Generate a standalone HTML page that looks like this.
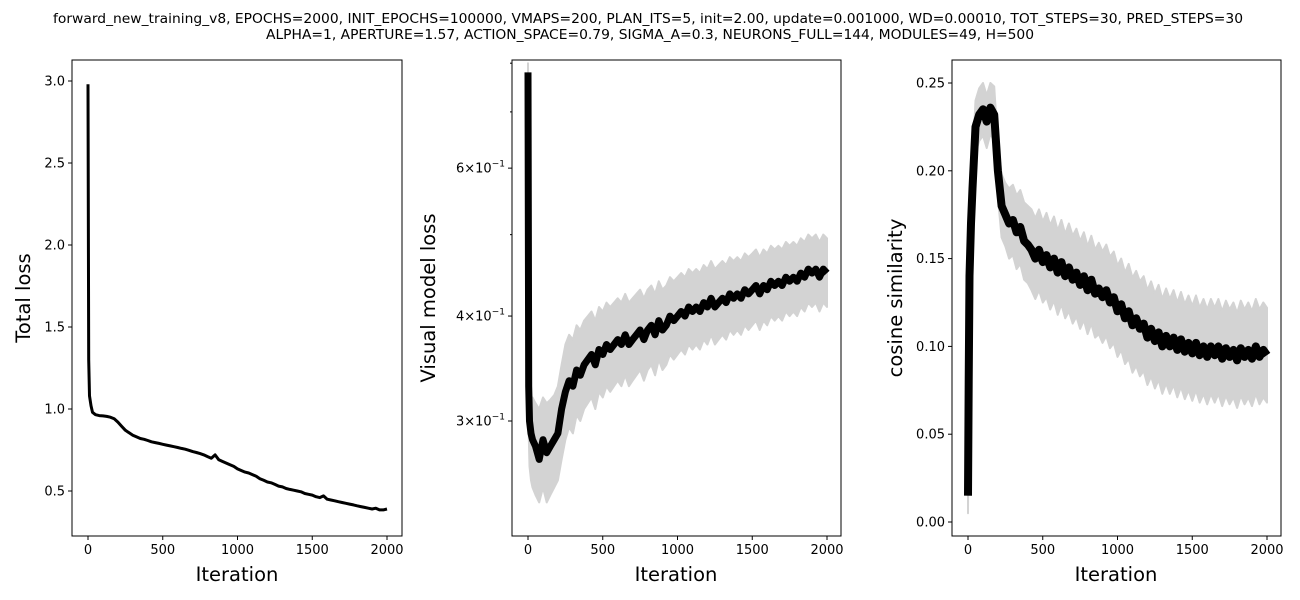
<!DOCTYPE html>
<html><head><meta charset="utf-8"><style>
body{margin:0;background:#fff;}
svg{display:block;font-family:"DejaVu Sans","Liberation Sans",sans-serif;}
</style></head><body>
<svg id="fig" width="1300" height="600" viewBox="0 0 1300 600" xmlns="http://www.w3.org/2000/svg">
<rect width="1300" height="600" fill="#fff"/>
<text x="648" y="23" font-size="13" text-anchor="middle" textLength="1190" lengthAdjust="spacingAndGlyphs">forward_new_training_v8, EPOCHS=2000, INIT_EPOCHS=100000, VMAPS=200, PLAN_ITS=5, init=2.00, update=0.001000, WD=0.00010, TOT_STEPS=30, PRED_STEPS=30</text>
<text x="650" y="39" font-size="13" text-anchor="middle" textLength="768" lengthAdjust="spacingAndGlyphs">ALPHA=1, APERTURE=1.57, ACTION_SPACE=0.79, SIGMA_A=0.3, NEURONS_FULL=144, MODULES=49, H=500</text>
<g id="g1"></g>
<g id="g2"></g>
<g id="g3"></g>
</svg>
<script>
const iters=[0,5,10,20,30,50,75,100,125,150,175,200,225,250,275,300,325,350,375,400,425,450,475,500,525,550,575,600,625,650,675,700,725,750,775,800,825,850,875,900,925,950,975,1000,1025,1050,1075,1100,1125,1150,1175,1200,1225,1250,1275,1300,1325,1350,1375,1400,1425,1450,1475,1500,1525,1550,1575,1600,1625,1650,1675,1700,1725,1750,1775,1800,1825,1850,1875,1900,1925,1950,1975,2000];
const totalLoss=[2.98,1.3,1.08,1.02,0.98,0.965,0.96,0.958,0.955,0.95,0.94,0.92,0.895,0.87,0.855,0.84,0.83,0.82,0.815,0.808,0.8,0.795,0.79,0.785,0.78,0.775,0.77,0.765,0.76,0.755,0.748,0.74,0.735,0.728,0.72,0.71,0.7,0.72,0.69,0.68,0.67,0.66,0.65,0.635,0.625,0.615,0.61,0.6,0.59,0.575,0.565,0.555,0.55,0.54,0.53,0.525,0.515,0.51,0.505,0.5,0.495,0.485,0.48,0.475,0.465,0.46,0.47,0.45,0.445,0.44,0.435,0.43,0.425,0.42,0.415,0.41,0.405,0.4,0.395,0.39,0.395,0.385,0.385,0.39];
const visMean=[0.78,0.33,0.3,0.29,0.285,0.28,0.27,0.285,0.275,0.28,0.285,0.29,0.31,0.325,0.335,0.33,0.345,0.34,0.35,0.355,0.36,0.35,0.365,0.36,0.37,0.365,0.37,0.375,0.37,0.38,0.37,0.375,0.38,0.385,0.375,0.385,0.39,0.38,0.395,0.385,0.39,0.4,0.395,0.4,0.405,0.4,0.41,0.405,0.41,0.405,0.415,0.41,0.42,0.41,0.415,0.42,0.415,0.425,0.42,0.425,0.42,0.43,0.425,0.43,0.435,0.425,0.435,0.43,0.44,0.435,0.44,0.435,0.445,0.44,0.445,0.44,0.45,0.445,0.455,0.45,0.455,0.445,0.455,0.45];
const visUpper=[0.8,0.36,0.33,0.32,0.32,0.315,0.31,0.32,0.315,0.318,0.322,0.33,0.35,0.37,0.38,0.375,0.39,0.385,0.395,0.4,0.405,0.395,0.41,0.405,0.415,0.41,0.415,0.42,0.415,0.425,0.415,0.42,0.425,0.43,0.42,0.43,0.435,0.425,0.44,0.43,0.435,0.445,0.44,0.445,0.45,0.445,0.455,0.45,0.455,0.45,0.46,0.455,0.465,0.455,0.46,0.465,0.46,0.47,0.465,0.47,0.465,0.475,0.47,0.475,0.48,0.47,0.48,0.475,0.485,0.48,0.485,0.48,0.49,0.485,0.49,0.485,0.495,0.49,0.5,0.495,0.5,0.49,0.5,0.495];
const visLower=[0.74,0.29,0.265,0.255,0.25,0.245,0.24,0.25,0.24,0.245,0.25,0.255,0.27,0.285,0.295,0.29,0.305,0.3,0.31,0.315,0.32,0.31,0.325,0.32,0.33,0.325,0.33,0.335,0.33,0.34,0.33,0.335,0.34,0.345,0.335,0.345,0.35,0.34,0.355,0.345,0.35,0.36,0.355,0.36,0.365,0.36,0.37,0.365,0.37,0.365,0.375,0.37,0.38,0.37,0.375,0.38,0.375,0.385,0.38,0.385,0.38,0.39,0.385,0.39,0.395,0.385,0.395,0.39,0.4,0.395,0.4,0.395,0.405,0.4,0.405,0.4,0.41,0.405,0.415,0.41,0.415,0.405,0.415,0.41];
const cosMean=[0.015,0.08,0.14,0.17,0.19,0.225,0.232,0.235,0.228,0.236,0.232,0.2,0.18,0.175,0.17,0.172,0.165,0.168,0.16,0.158,0.155,0.15,0.155,0.148,0.152,0.145,0.15,0.142,0.148,0.14,0.145,0.138,0.142,0.135,0.14,0.132,0.138,0.13,0.133,0.128,0.132,0.125,0.128,0.12,0.124,0.116,0.12,0.112,0.116,0.11,0.113,0.105,0.11,0.103,0.108,0.1,0.106,0.1,0.105,0.098,0.104,0.097,0.102,0.096,0.102,0.095,0.1,0.094,0.1,0.095,0.1,0.093,0.099,0.094,0.098,0.092,0.099,0.094,0.098,0.093,0.1,0.094,0.098,0.095];
const cosUpper=[0.02,0.09,0.15,0.185,0.205,0.24,0.247,0.25,0.243,0.25,0.248,0.215,0.198,0.193,0.19,0.192,0.186,0.189,0.182,0.18,0.178,0.173,0.178,0.171,0.176,0.169,0.174,0.166,0.172,0.164,0.17,0.163,0.167,0.16,0.165,0.157,0.163,0.155,0.159,0.154,0.158,0.151,0.154,0.146,0.15,0.142,0.147,0.139,0.143,0.137,0.14,0.132,0.137,0.13,0.135,0.127,0.133,0.127,0.132,0.125,0.131,0.124,0.129,0.123,0.129,0.122,0.127,0.121,0.127,0.122,0.127,0.12,0.126,0.121,0.125,0.119,0.126,0.121,0.125,0.12,0.127,0.121,0.125,0.122];
const cosLower=[0.005,0.07,0.13,0.155,0.175,0.21,0.217,0.22,0.213,0.221,0.217,0.185,0.162,0.157,0.15,0.152,0.144,0.147,0.138,0.136,0.132,0.127,0.132,0.125,0.128,0.121,0.126,0.118,0.124,0.116,0.12,0.113,0.117,0.11,0.115,0.107,0.113,0.105,0.107,0.102,0.106,0.099,0.102,0.094,0.098,0.09,0.093,0.085,0.089,0.083,0.086,0.078,0.083,0.076,0.081,0.073,0.079,0.073,0.078,0.071,0.077,0.07,0.075,0.069,0.075,0.068,0.073,0.067,0.073,0.068,0.073,0.066,0.072,0.067,0.071,0.065,0.072,0.067,0.071,0.066,0.073,0.067,0.071,0.068];
const xTicks=[0,500,1000,1500,2000];
const y1Ticks=[0.5,1.0,1.5,2.0,2.5,3.0];
const y2Major=[0.3,0.4,0.6];
const y2MajorLabels=[["3","\u22121"],["4","\u22121"],["6","\u22121"]];
const y2Minor=[0.5,0.7,0.8];
const y3Ticks=[0,0.05,0.1,0.15,0.2,0.25];

const NS="http://www.w3.org/2000/svg";
function mk(parent,tag,attrs){const e=document.createElementNS(NS,tag);for(const k in attrs)e.setAttribute(k,attrs[k]);parent.appendChild(e);return e;}
const TOP=60,BOT=536;
function panel(g,L,R,x0,x2000,yf){
  const xs=v=>x0+(x2000-x0)*v/2000;
  return {xs,yf,L,R};
}
function frame(g,L,R){
  const r=mk(g,'rect',{x:L,y:TOP,width:R-L,height:BOT-TOP,fill:'none',stroke:'#000','stroke-width':1});
  
  
}
function xaxis(g,p,cx){
  xTicks.forEach(t=>{
    const x=p.xs(t);
    const l=mk(g,'line',{x1:x,x2:x,y1:BOT,y2:BOT+4,stroke:'#000'});
    
    
    const tx=mk(g,'text',{x:x,y:BOT+18,'font-size':13,'text-anchor':'middle'});
    
    
    tx.textContent=t;
  });
  const xl=mk(g,'text',{x:cx,y:581,'font-size':19.5,'text-anchor':'middle'});
  
  
  xl.textContent='Iteration';
}
function ytick(g,L,y,label){
  const l=mk(g,'line',{x1:L-4,x2:L,y1:y,y2:y,stroke:'#000'});
  
  
  if(label!==null){
    const t=mk(g,'text',{x:L-7,y:y+4.5,'font-size':13,'text-anchor':'end'});
    
    
    t.textContent=label;
  }
}
function ytitle(g,x,cy,txt){
  const t=mk(g,'text',{x:x,y:cy,'font-size':19.5,'text-anchor':'middle',transform:`rotate(-90 ${x} ${cy})`});
  
  
  t.textContent=txt;
}
function line(g,p,ys,name,color,w){
  const d=iters.map((x,i)=>(i?'L':'M')+p.xs(x).toFixed(1)+','+p.yf(ys[i]).toFixed(1)).join('');
  const e=mk(g,'path',{d:d,fill:'none',stroke:color,'stroke-width':w,'stroke-linejoin':'round'});
  
  
}
function band(g,p,lo,hi,name){
  let d=iters.map((x,i)=>(i?'L':'M')+p.xs(x).toFixed(1)+','+p.yf(hi[i]).toFixed(1)).join('');
  for(let i=iters.length-1;i>=0;i--)d+='L'+p.xs(iters[i]).toFixed(1)+','+p.yf(lo[i]).toFixed(1);
  const e=mk(g,'path',{d:d+'Z',fill:'#d3d3d3',stroke:'#d3d3d3','stroke-width':2,'stroke-linejoin':'round'});
  
  
}
// Panel 1
const g1=document.getElementById('g1');
const p1=panel(g1,72,402,88,387,v=>409-(v-1)*164);
line(g1,p1,totalLoss,'total-loss-line','#000',3);
frame(g1,72,402);
y1Ticks.forEach(t=>ytick(g1,72,p1.yf(t),t.toFixed(1)));
xaxis(g1,p1,237);
ytitle(g1,30,298,'Total loss');
// Panel 2
const g2=document.getElementById('g2');
const p2=panel(g2,512,841,528,827,v=>421-840*Math.log10(v/0.3));
band(g2,p2,visLower,visUpper,'visual-loss-band');
line(g2,p2,visMean,'visual-loss-line','#000',7);
frame(g2,512,841);
y2Major.forEach((t,i)=>{
  const y=p2.yf(t);ytick(g2,512,y,null);
  const tx=mk(g2,'text',{x:505,y:y+4.5,'font-size':13,'text-anchor':'end'});
  
  
  tx.textContent=y2MajorLabels[i][0]+'\u00d710';
  const s=mk(tx,'tspan',{dy:-6,'font-size':9});
  s.textContent=y2MajorLabels[i][1];
});
y2Minor.forEach(t=>{const y=p2.yf(t);const l=mk(g2,'line',{x1:510,x2:512,y1:y,y2:y,stroke:'#000'});});
xaxis(g2,p2,676);
ytitle(g2,435,298,'Visual model loss');
// Panel 3
const g3=document.getElementById('g3');
const p3=panel(g3,952,1281,968,1267,v=>522-v*1756);
band(g3,p3,cosLower,cosUpper,'cosine-band');
line(g3,p3,cosMean,'cosine-line','#000',8);
frame(g3,952,1281);
y3Ticks.forEach(t=>ytick(g3,952,p3.yf(t),t.toFixed(2)));
xaxis(g3,p3,1116);
ytitle(g3,902,298,'cosine similarity');
</script>
</body></html>
